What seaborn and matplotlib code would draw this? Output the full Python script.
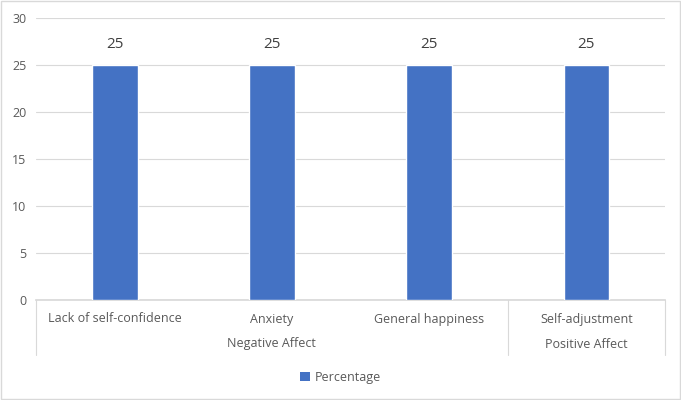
import matplotlib
matplotlib.use("Agg")
import matplotlib.pyplot as plt
import matplotlib.transforms as mtransforms
from matplotlib.patches import Rectangle
import seaborn as sns
import pandas as pd

categories = ["Lack of self-confidence", "Anxiety", "General happiness", "Self-adjustment"]
groups = ["Negative Affect", "Negative Affect", "Negative Affect", "Positive Affect"]
percentage = [25, 25, 25, 25]

df = pd.DataFrame({"category": categories, "group": groups, "Percentage": percentage})

sns.set_theme(style="white")
plt.rcParams["font.family"] = ["Open Sans", "DejaVu Sans"]

bar_c = "#4472C4"
grey_txt = "#595959"
grid_c = "#d9d9d9"

fig = plt.figure(figsize=(6.81, 4.0), dpi=100)
ax = fig.add_axes([0.053, 0.25, 0.9235, 0.705])

sns.barplot(data=df, x="category", y="Percentage", color=bar_c, width=0.29,
            saturation=1, legend=False, ax=ax, zorder=3)

ax.set_ylim(0, 30)
ax.set_yticks(range(0, 31, 5))
ax.set_xlim(-0.5, len(categories) - 0.5)
ax.yaxis.grid(True, color=grid_c, linewidth=0.8, zorder=0)
for s in ["top", "right", "left"]:
    ax.spines[s].set_visible(False)
ax.spines["bottom"].set_color(grid_c)
ax.tick_params(axis="both", length=0, labelsize=9, colors=grey_txt)
ax.tick_params(axis="x", pad=9)
ax.tick_params(axis="y", pad=7)
ax.set_xlabel("")
ax.set_ylabel("")

for cont in ax.containers:
    ax.bar_label(cont, padding=9, fontsize=11, color="#404040")

# second level of the category axis
trans = mtransforms.blended_transform_factory(ax.transData, ax.transAxes)
depth = -55 / 282
bounds = [-0.5]
for i in range(1, len(groups)):
    if groups[i] != groups[i - 1]:
        bounds.append(i - 0.5)
bounds.append(len(groups) - 0.5)
for b in bounds:
    ax.plot([b, b], [0, depth], transform=trans, color=grid_c, linewidth=0.8, clip_on=False)
for a, b in zip(bounds[:-1], bounds[1:]):
    ax.text((a + b) / 2, -44 / 282, groups[int(a + 0.5)], transform=trans,
            ha="center", va="center", fontsize=9, color=grey_txt)

handle = Rectangle((0, 0), 1, 1, facecolor=bar_c, edgecolor="none")
fig.legend([handle], ["Percentage"], loc="center", bbox_to_anchor=(0.5, 0.057),
           frameon=False, fontsize=9, labelcolor=grey_txt, handlelength=0.8,
           handleheight=0.8, handletextpad=0.4)

fig.patches.append(Rectangle((0.002, 0.003), 0.996, 0.994, transform=fig.transFigure,
                             fill=False, edgecolor=grid_c, linewidth=1))

fig.savefig("out.png", dpi=100)
